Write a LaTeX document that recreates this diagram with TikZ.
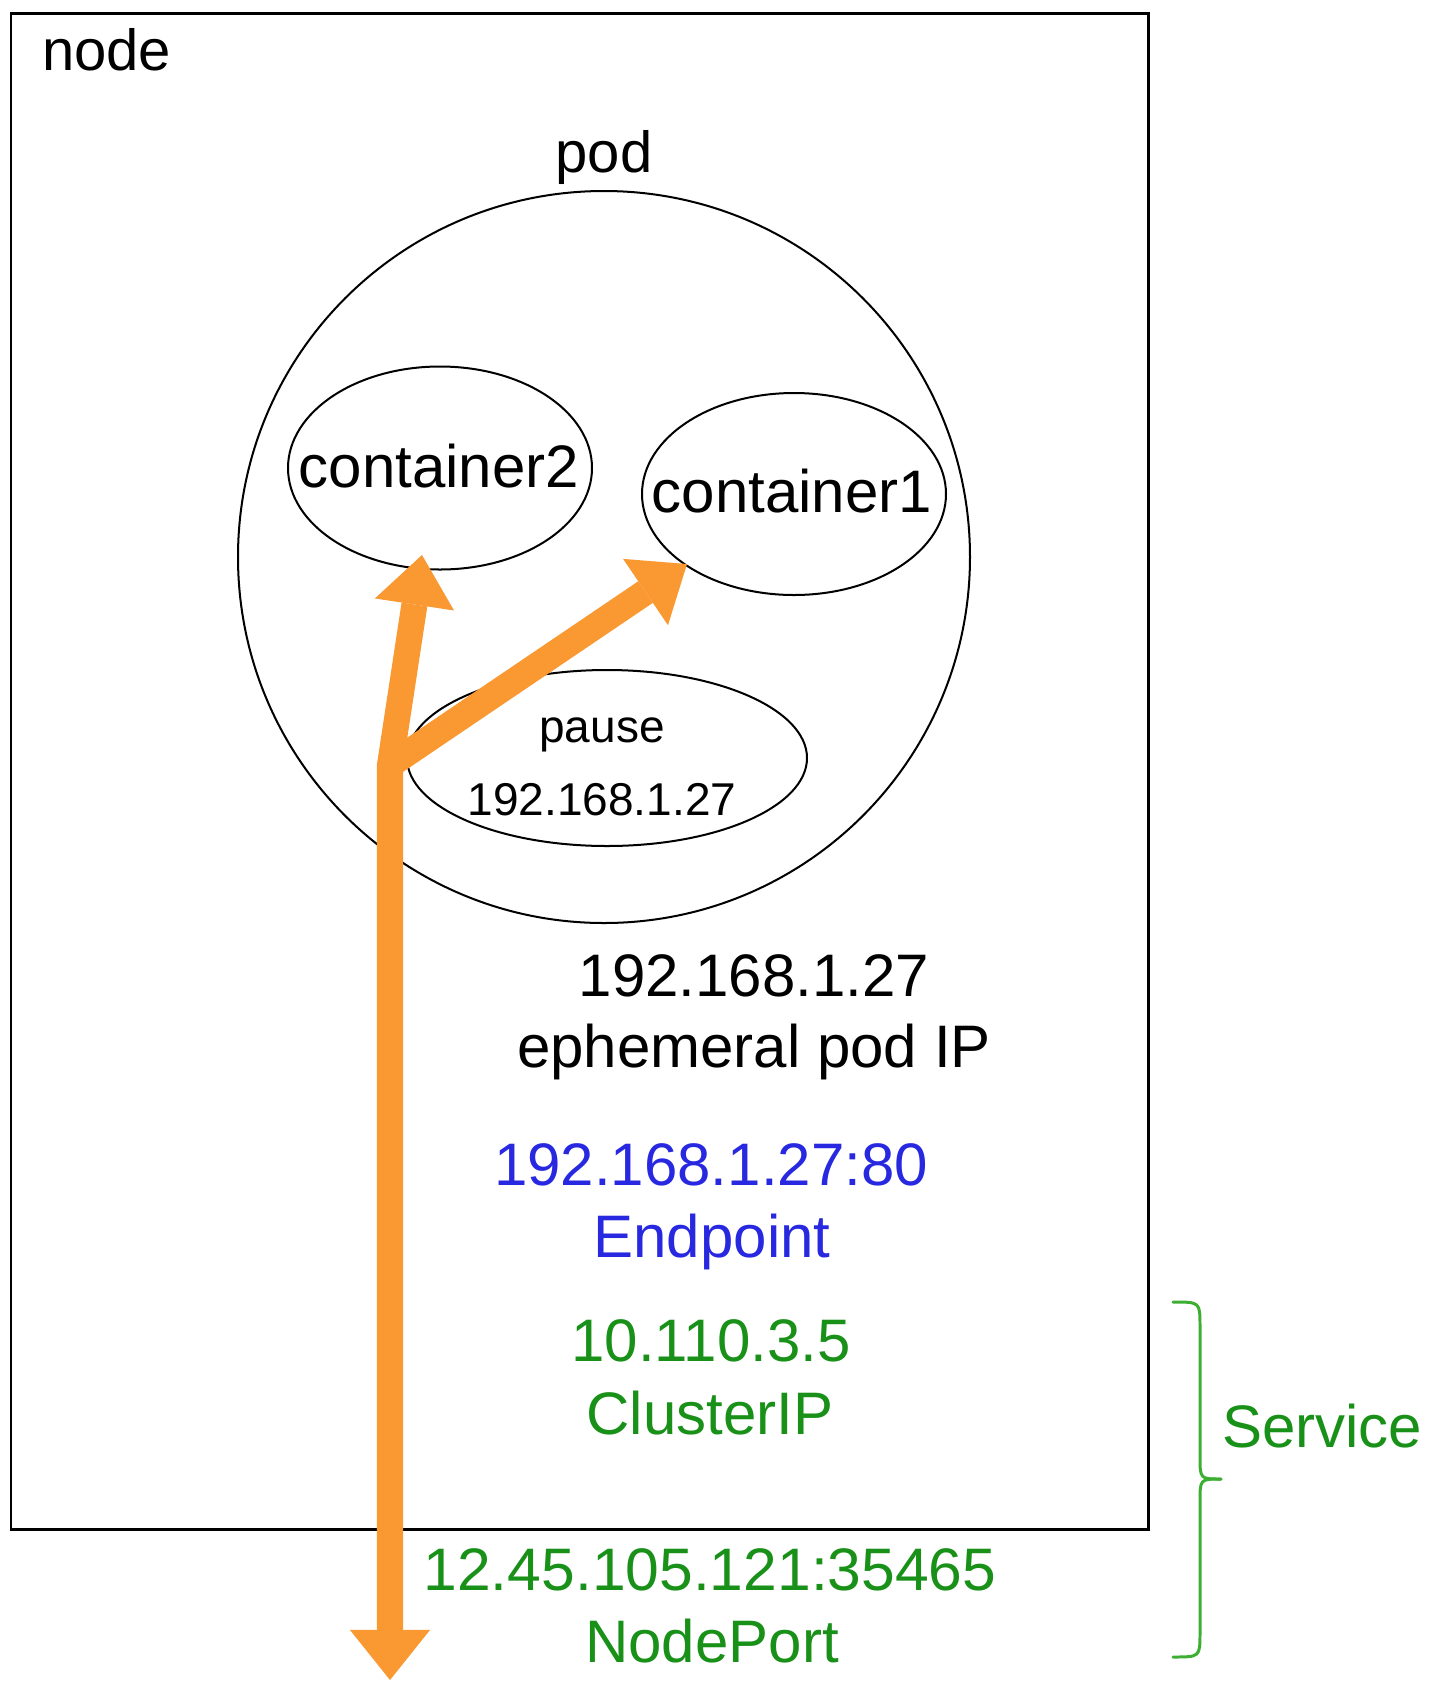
\documentclass[tikz,border=0pt]{standalone}
\usepackage{fontspec}
\setmainfont{Liberation Sans}
\usetikzlibrary{arrows.meta,shapes.geometric}
\newlength\pxu
\setlength\pxu{0.01cm}
\newcommand\fsz[1]{\fontsize{#1\pxu}{#1\pxu}\selectfont}
\definecolor{floworange}{RGB}{250,152,50}
\definecolor{svcgreen}{RGB}{25,145,25}
\definecolor{bracegreen}{RGB}{60,175,50}
\definecolor{epblue}{RGB}{40,40,225}
\tikzset{
  lbl/.style={inner sep=0pt, outer sep=0pt, anchor=base},
  f60/.style={font=\fsz{60}},
  ell/.style={draw, ellipse, line width=0.57pt, inner sep=0pt},
  flowline/.style={draw=floworange, line width=7.4pt, line join=miter},
  bracestroke/.style={draw=bracegreen, line width=0.85pt, line cap=round}
}
\begin{document}
\begin{tikzpicture}[x=0.01cm, y=-0.01cm]
\useasboundingbox (0,0) rectangle (1434,1696);
\fill[white] (0,0) rectangle (1434,1696);

% node box
\node[draw, line width=0.85pt, minimum width=1137\pxu, minimum height=1516\pxu, inner sep=0pt] (nodebox) at (579.5,771) {};
\node[lbl, font=\fsz{58}, anchor=base west] (nodelbl) at (42,70) {node};

% pod
\node[lbl, font=\fsz{58}] (podlbl) at (604,172) {pod};
\node[draw, circle, line width=0.57pt, minimum size=732\pxu, inner sep=0pt] (pod) at (604,557) {};

% containers
\node[ell, minimum width=304\pxu, minimum height=203\pxu] (c2) at (440,468) {};
\node[lbl, f60] (c2txt) at (439,487) {container2};
\node[ell, minimum width=304\pxu, minimum height=202\pxu] (c1) at (794,494) {};
\node[lbl, f60] (c1txt) at (792,512) {container1};

% pause
\node[ell, minimum width=400\pxu, minimum height=176\pxu] (pause) at (607,758) {};
\node[lbl, font=\fsz{46}] (pausetxt) at (602,742) {pause};
\node[lbl, font=\fsz{46}] (pauseip) at (602,815) {192.168.1.27};

% addresses
\node[lbl, f60] (podip) at (754,996) {192.168.1.27};
\node[lbl, f60] (podiptxt) at (754,1067) {ephemeral pod IP};
\node[lbl, f60, text=epblue] (ep) at (711,1185) {192.168.1.27:80};
\node[lbl, f60, text=epblue] (eptxt) at (712,1257) {Endpoint};
\node[lbl, f60, text=svcgreen] (cip) at (711,1361) {10.110.3.5};
\node[lbl, f60, text=svcgreen] (ciptxt) at (710,1434) {ClusterIP};
\node[lbl, f60, text=svcgreen] (np) at (710,1590) {\scalebox{1.01}[1]{12.45.105.121:35465}};
\node[lbl, f60, text=svcgreen] (nptxt) at (712,1662) {NodePort};
\node[lbl, f60, text=svcgreen, anchor=base west] (svc) at (1222,1447) {Service};

% service brace
\draw[bracestroke] (1173,1302) .. controls (1200,1302) .. (1200,1326) -- (1200,1456) .. controls (1200,1479) .. (1221,1479);
\draw[bracestroke] (1221,1479) .. controls (1200,1479) .. (1200,1502) -- (1200,1633) .. controls (1200,1657) .. (1173,1657);

% traffic arrows
\coordinate (j) at (390,765);
\coordinate (t2) at (422,555);
\coordinate (t1) at (687,564);
\coordinate (out) at (390,1680);
\draw[flowline, arrows={Triangle[width=22.76pt,length=14.23pt,line width=0pt]-Triangle[width=22.76pt,length=14.23pt,line width=0pt]}] (t2) -- (j) -- (out);
\draw[flowline, arrows={-Triangle[width=22.76pt,length=14.23pt,line width=0pt]}] (j) -- (t1);
\end{tikzpicture}
\end{document}
